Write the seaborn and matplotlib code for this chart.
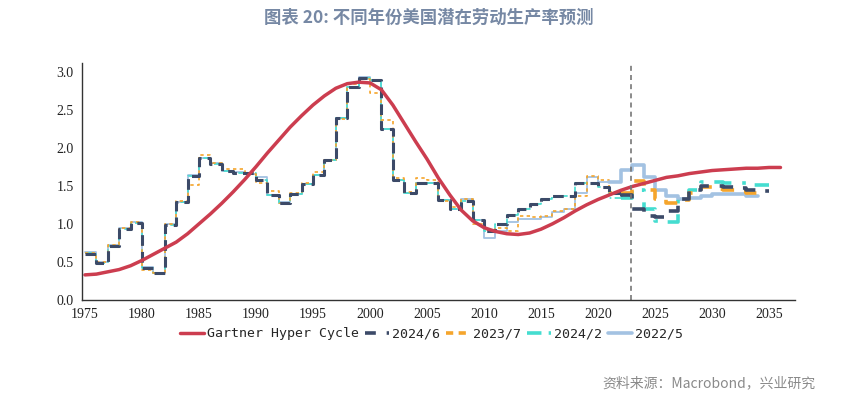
import numpy as np
import pandas as pd
import matplotlib
matplotlib.use("Agg")
import matplotlib.pyplot as plt
import seaborn as sns
from matplotlib.lines import Line2D

# ----------------------- дані
gartner_years = list(range(1975, 2037))
gartner_vals = [0.33, 0.34, 0.37, 0.40, 0.45, 0.52, 0.60, 0.68, 0.76, 0.87,
                1.00, 1.13, 1.27, 1.42, 1.58, 1.75, 1.93, 2.10, 2.27, 2.42,
                2.56, 2.68, 2.78, 2.84, 2.86, 2.85, 2.76, 2.56, 2.32, 2.08,
                1.85, 1.60, 1.38, 1.18, 1.04, 0.95, 0.90, 0.87, 0.86, 0.88,
                0.93, 1.00, 1.08, 1.17, 1.25, 1.32, 1.38, 1.44, 1.49, 1.53,
                1.57, 1.61, 1.63, 1.66, 1.68, 1.70, 1.71, 1.72, 1.73, 1.73,
                1.74, 1.74]

hist_years = list(range(1975, 2023))
v2024_6_hist = [0.61, 0.49, 0.71, 0.93, 1.01, 0.42, 0.35, 0.99, 1.29, 1.63,
                1.86, 1.79, 1.70, 1.67, 1.67, 1.58, 1.38, 1.28, 1.39, 1.52,
                1.64, 1.84, 2.39, 2.80, 2.91, 2.89, 2.24, 1.58, 1.40, 1.53,
                1.53, 1.31, 1.20, 1.30, 1.05, 0.90, 1.00, 1.12, 1.19, 1.26,
                1.32, 1.36, 1.36, 1.53, 1.53, 1.48, 1.40, 1.38]
v2023_7_hist = [0.62, 0.50, 0.72, 0.94, 1.02, 0.40, 0.36, 1.00, 1.30, 1.51,
                1.91, 1.80, 1.72, 1.72, 1.66, 1.53, 1.43, 1.28, 1.40, 1.53,
                1.68, 1.84, 2.38, 2.84, 2.90, 2.72, 2.36, 1.60, 1.42, 1.60,
                1.58, 1.30, 1.22, 1.32, 1.00, 0.92, 0.95, 0.91, 1.10, 1.09,
                1.10, 1.17, 1.20, 1.36, 1.63, 1.58, 1.42, 1.40]
v2024_2_hist = [0.62, 0.49, 0.71, 0.93, 1.01, 0.42, 0.35, 0.99, 1.29, 1.63,
                1.86, 1.79, 1.70, 1.67, 1.67, 1.58, 1.38, 1.28, 1.39, 1.52,
                1.64, 1.84, 2.39, 2.80, 2.91, 2.89, 2.24, 1.58, 1.40, 1.53,
                1.53, 1.31, 1.20, 1.30, 1.05, 0.90, 1.00, 1.12, 1.19, 1.26,
                1.32, 1.36, 1.36, 1.53, 1.53, 1.48, 1.34, 1.34]
hist_years_2022_5 = list(range(1975, 2022))
v2022_5_hist = [0.63, 0.50, 0.72, 0.94, 1.02, 0.43, 0.36, 1.00, 1.29, 1.64,
                1.86, 1.80, 1.70, 1.68, 1.66, 1.62, 1.38, 1.29, 1.39, 1.52,
                1.64, 1.84, 2.39, 2.80, 2.93, 2.88, 2.24, 1.58, 1.40, 1.53,
                1.53, 1.31, 1.20, 1.32, 1.05, 0.81, 0.90, 1.03, 1.07, 1.07,
                1.09, 1.16, 1.20, 1.40, 1.62, 1.55, 1.55]

fc_years = list(range(2022, 2035))
v2024_6_fc = [1.38, 1.20, 1.10, 1.09, 1.17, 1.33, 1.45, 1.50, 1.50, 1.49,
              1.47, 1.44, 1.43]
fc_years_2023_7 = list(range(2022, 2034))
v2023_7_fc = [1.40, 1.56, 1.45, 1.32, 1.28, 1.31, 1.41, 1.48, 1.46, 1.45,
              1.43, 1.41]
v2024_2_fc = [1.34, 1.45, 1.19, 1.04, 1.03, 1.33, 1.45, 1.55, 1.55, 1.54,
              1.53, 1.51, 1.51]
fc_years_2022_5 = list(range(2021, 2034))
v2022_5_fc = [1.55, 1.71, 1.77, 1.62, 1.45, 1.36, 1.32, 1.34, 1.37, 1.39,
              1.39, 1.39, 1.37]

vline_year = 2022.9


def steps(years, vals):
    # останнє значення тягнемо до кінця року
    return pd.DataFrame({"x": list(years) + [years[-1] + 1],
                         "y": list(vals) + [vals[-1]]})


sns.set_theme(style="white")
plt.rcParams['font.family'] = ['Noto Sans CJK SC', 'DejaVu Sans']

fig = plt.figure(figsize=(8.57, 3.97), dpi=100)
ax = fig.add_axes([0.0957, 0.2443, 0.8323, 0.5967])

c_red = "#cc3d4f"
c_navy = "#3c4a68"
c_orange = "#f5a52c"
c_cyan = "#45ddd0"
c_lblue = "#a3c2e2"

# історія (тонкі лінії)
d = steps(hist_years_2022_5, v2022_5_hist)
sns.lineplot(data=d, x="x", y="y", ax=ax, color=c_lblue, lw=1.3, drawstyle="steps-post")
d = steps(hist_years, v2024_2_hist)
sns.lineplot(data=d, x="x", y="y", ax=ax, color=c_cyan, lw=1.2,
             linestyle=(0, (5, 2, 1, 2)), drawstyle="steps-post")
d = steps(hist_years, v2023_7_hist)
sns.lineplot(data=d, x="x", y="y", ax=ax, color=c_orange, lw=1.2,
             linestyle=(0, (2, 2)), drawstyle="steps-post")
d = steps(hist_years, v2024_6_hist)
sns.lineplot(data=d, x="x", y="y", ax=ax, color=c_navy, lw=2.2,
             linestyle=(0, (3.5, 2)), drawstyle="steps-post")

# прогнози (товсті лінії)
d = steps(fc_years_2022_5, v2022_5_fc)
sns.lineplot(data=d, x="x", y="y", ax=ax, color=c_lblue, lw=2.6, drawstyle="steps-post")
d = steps(fc_years, v2024_2_fc)
sns.lineplot(data=d, x="x", y="y", ax=ax, color=c_cyan, lw=2.6,
             linestyle=(0, (5, 3, 1, 3)), drawstyle="steps-post")
d = steps(fc_years_2023_7, v2023_7_fc)
sns.lineplot(data=d, x="x", y="y", ax=ax, color=c_orange, lw=2.6,
             linestyle=(0, (4, 3)), drawstyle="steps-post")
d = steps(fc_years, v2024_6_fc)
sns.lineplot(data=d, x="x", y="y", ax=ax, color=c_navy, lw=2.6,
             linestyle=(0, (4, 3)), drawstyle="steps-post")

# Gartner
dg = pd.DataFrame({"x": gartner_years, "y": gartner_vals})
sns.lineplot(data=dg, x="x", y="y", ax=ax, color=c_red, lw=2.5)

ax.axvline(vline_year, color="#777777", lw=1.2, ls=(0, (3, 2.5)))

ax.set_xlim(1974.74, 2037.3)
ax.set_ylim(0, 3.11)
ax.set_xticks(list(range(1975, 2036, 5)))
ax.set_yticks(np.arange(0, 3.01, 0.5))
ax.set_yticklabels([f"{v:.1f}" for v in np.arange(0, 3.01, 0.5)])
ax.set_xlabel("")
ax.set_ylabel("")
for s in ["top", "right"]:
    ax.spines[s].set_visible(False)
for s in ["left", "bottom"]:
    ax.spines[s].set_color("#333333")
    ax.spines[s].set_linewidth(1.0)
ax.tick_params(axis="both", which="major", direction="out", length=4, width=1,
               color="#555555", labelsize=10, pad=2)
for lab in ax.get_xticklabels() + ax.get_yticklabels():
    lab.set_family("Liberation Serif")
    lab.set_color("#222222")

# легенда
handles = [
    Line2D([], [], color=c_red, lw=2.5),
    Line2D([], [], color=c_navy, lw=2.6, ls=(0, (3, 3))),
    Line2D([], [], color=c_orange, lw=2.6, ls=(0, (2, 1.5))),
    Line2D([], [], color=c_cyan, lw=2.6, ls=(0, (4, 2, 1, 2))),
    Line2D([], [], color=c_lblue, lw=2.6),
]
labels = ["Gartner Hyper Cycle", "2024/6", "2023/7", "2024/2", "2022/5"]
ax.legend(handles, labels, loc="upper center", bbox_to_anchor=(0.49, -0.065),
          ncol=5, frameon=False, handlelength=1.8, handletextpad=0.2,
          columnspacing=0.5, prop={"family": "DejaVu Sans Mono", "size": 9.5})

fig.text(0.5, 0.955, "图表 20: 不同年份美国潜在劳动生产率预测", ha="center", va="center",
         fontsize=12.5, fontweight="bold", color="#7688a4",
         family=["Noto Sans CJK SC", "DejaVu Sans"])
fig.text(0.951, 0.035, "资料来源：Macrobond，兴业研究", ha="right", va="center",
         fontsize=10, color="#8a8a8a", family=["Noto Sans CJK SC", "DejaVu Sans"])

fig.savefig("out.png", dpi=100, facecolor="white")
